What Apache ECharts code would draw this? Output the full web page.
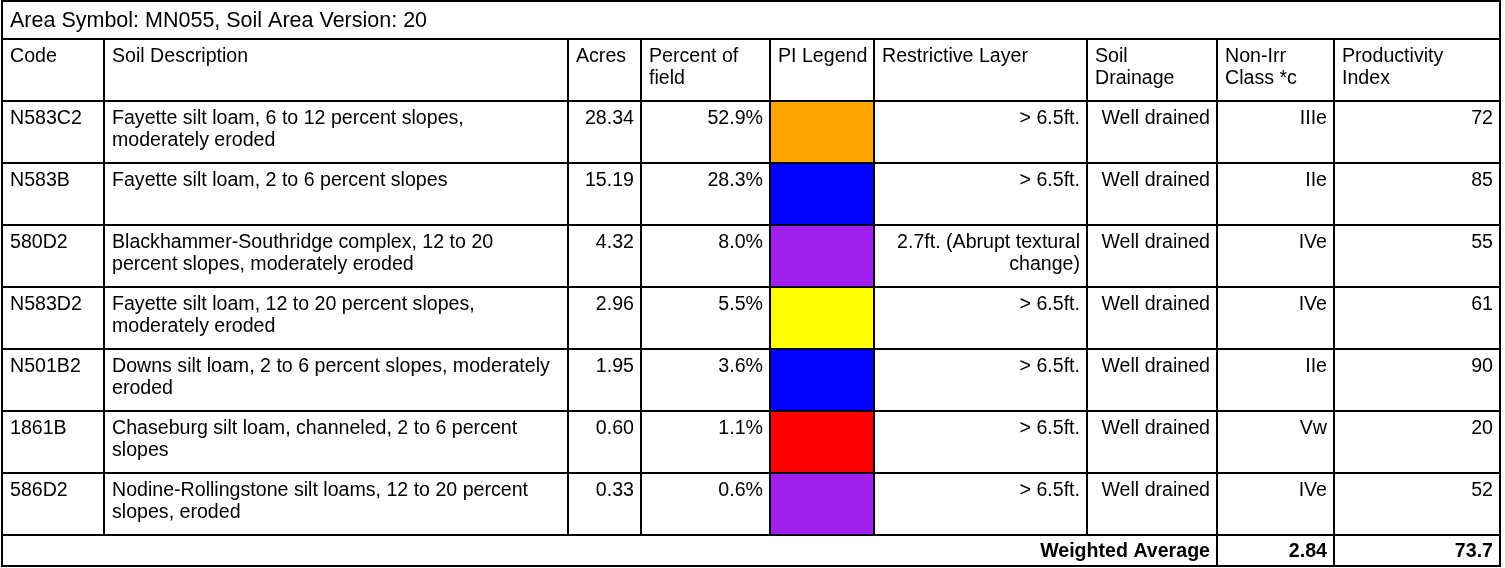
<!DOCTYPE html>
<html>
<head>
<meta charset="utf-8">
<script src="https://cdn.jsdelivr.net/npm/echarts@6/dist/echarts.min.js"></script>
<style>
html,body{margin:0;padding:0;background:#fff;}
#chart{width:1505px;height:568px;}
</style>
</head>
<body>
<div id="chart"></div>
<script>
// ---- data ----
const title = 'Area Symbol: MN055, Soil Area Version: 20';
const headers = ['Code', 'Soil Description', 'Acres', 'Percent of\nfield', 'PI Legend', 'Restrictive Layer', 'Soil\nDrainage', 'Non-Irr\nClass *c', 'Productivity\nIndex'];
const codes = ['N583C2', 'N583B', '580D2', 'N583D2', 'N501B2', '1861B', '586D2'];
const descriptions = [
  'Fayette silt loam, 6 to 12 percent slopes,\nmoderately eroded',
  'Fayette silt loam, 2 to 6 percent slopes',
  'Blackhammer-Southridge complex, 12 to 20\npercent slopes, moderately eroded',
  'Fayette silt loam, 12 to 20 percent slopes,\nmoderately eroded',
  'Downs silt loam, 2 to 6 percent slopes, moderately\neroded',
  'Chaseburg silt loam, channeled, 2 to 6 percent\nslopes',
  'Nodine-Rollingstone silt loams, 12 to 20 percent\nslopes, eroded'
];
const acres = [28.34, 15.19, 4.32, 2.96, 1.95, 0.60, 0.33];
const percents = [52.9, 28.3, 8.0, 5.5, 3.6, 1.1, 0.6];
const piLegend = ['#FFA500', '#0000FF', '#A020F0', '#FFFF00', '#0000FF', '#FF0000', '#A020F0'];
const restrictive = ['> 6.5ft.', '> 6.5ft.', '2.7ft. (Abrupt textural\nchange)', '> 6.5ft.', '> 6.5ft.', '> 6.5ft.', '> 6.5ft.'];
const drainage = ['Well drained', 'Well drained', 'Well drained', 'Well drained', 'Well drained', 'Well drained', 'Well drained'];
const nonIrrClass = ['IIIe', 'IIe', 'IVe', 'IVe', 'IIe', 'Vw', 'IVe'];
const productivity = [72, 85, 55, 61, 90, 20, 52];
const weightedLabel = 'Weighted Average';
const weightedClass = 2.84;
const weightedPI = 73.7;

// ---- layout (table grid edges, in axis units) ----
const colEdges = [2, 104, 568, 641, 770, 874, 1087, 1217, 1334, 1500];
const rowEdges = [1, 39, 101, 163, 225, 287, 349, 411, 473, 535, 566];
const colAlign = ['left', 'left', 'right', 'right', 'left', 'right', 'right', 'right', 'right'];

// ---- build cells ----
const cells = [];
function addCell(c0, c1, r0, r1, text, align, opts) {
  cells.push(Object.assign({x0: colEdges[c0], x1: colEdges[c1], y0: rowEdges[r0], y1: rowEdges[r1], text: text, align: align}, opts || {}));
}
addCell(0, 9, 0, 1, title, 'left', {valign: 'middle', size: 21.5});
headers.forEach((h, i) => addCell(i, i + 1, 1, 2, h, 'left'));
codes.forEach((code, r) => {
  const row = r + 2;
  const vals = [code, descriptions[r], acres[r].toFixed(2), percents[r].toFixed(1) + '%', '', restrictive[r], drainage[r], nonIrrClass[r], String(productivity[r])];
  vals.forEach((v, c) => addCell(c, c + 1, row, row + 1, v, colAlign[c], c === 4 ? {fill: piLegend[r]} : null));
});
addCell(0, 7, 9, 10, weightedLabel, 'right', {bold: true, valign: 'middle'});
addCell(7, 8, 9, 10, weightedClass.toFixed(2), 'right', {bold: true, valign: 'middle'});
addCell(8, 9, 9, 10, weightedPI.toFixed(1), 'right', {bold: true, valign: 'middle'});

const FONT_FAMILY = '"Liberation Sans", Arial, sans-serif';
const PAD = 7;

const chart = echarts.init(document.getElementById('chart'));
chart.setOption({
  animation: false,
  backgroundColor: '#fff',
  grid: {left: 0, right: 0, top: 0, bottom: 0},
  xAxis: {type: 'value', min: 0, max: 1505, show: false},
  yAxis: {type: 'value', min: 0, max: 568, inverse: true, show: false},
  series: [{
    type: 'custom',
    coordinateSystem: 'cartesian2d',
    data: cells.map(c => [c.x0, c.y0, c.x1, c.y1]),
    renderItem: function (params, api) {
      const c = cells[params.dataIndex];
      const p0 = api.coord([api.value(0), api.value(1)]);
      const p1 = api.coord([api.value(2), api.value(3)]);
      const w = p1[0] - p0[0], h = p1[1] - p0[1];
      const tx = c.align === 'right' ? p1[0] - PAD : p0[0] + PAD + 1;
      const middle = c.valign === 'middle';
      const ty = middle ? p0[1] + h / 2 + 1 : p0[1] + 7;
      return {
        type: 'group',
        children: [
          {type: 'rect', shape: {x: p0[0], y: p0[1], width: w, height: h},
           style: {fill: c.fill || '#fff', stroke: '#000', lineWidth: 2}},
          {type: 'text', z2: 10, style: {
            text: c.text, x: tx, y: ty, align: c.align,
            verticalAlign: middle ? 'middle' : 'top',
            fontFamily: FONT_FAMILY, fontSize: c.size || 19.6, fontWeight: c.bold ? 'bold' : 'normal',
            lineHeight: 22, fill: '#000'
          }}
        ]
      };
    }
  }]
});
</script>
</body>
</html>
